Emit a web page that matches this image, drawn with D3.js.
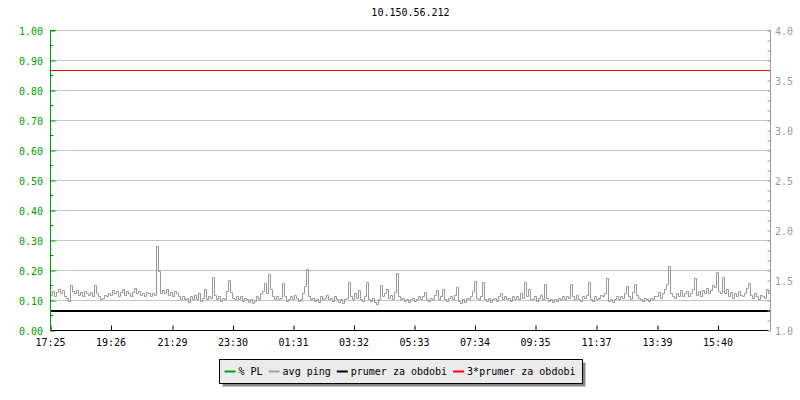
<!DOCTYPE html>
<html>
<head>
<meta charset="utf-8">
<script src="https://cdn.jsdelivr.net/npm/d3@7"></script>
<style>
    body { margin: 0; background: #fff; }
    text { font-family: "DejaVu Sans Mono", monospace; font-size: 10px; }
</style>
</head>
<body>
<svg id="chart" width="800" height="400"></svg>
<script>
    var title = "10.150.56.212";

    // x axis tick labels (minutes after 17:25 start)
    var timeLabels = ["17:25", "19:26", "21:29", "23:30", "01:31", "03:32",
        "05:33", "07:34", "09:35", "11:37", "13:39", "15:40"];
    var timeOffsets = [0, 121, 244, 365, 486, 607, 728, 849, 970, 1092, 1214, 1335];
    var spanMinutes = 1440;
    var stepMinutes = 4;

    var plTicks = [0, 0.1, 0.2, 0.3, 0.4, 0.5, 0.6, 0.7, 0.8, 0.9, 1.0];
    var pingTicks = [1.0, 1.5, 2.0, 2.5, 3.0, 3.5, 4.0];

    // avg ping, one sample every 4 minutes
    var avgPing = [
        1.36, 1.40, 1.34, 1.39, 1.42, 1.37, 1.41, 1.35, 1.33, 1.30,
        1.46, 1.40, 1.37, 1.41, 1.36, 1.39, 1.35, 1.40, 1.38, 1.36,
        1.39, 1.34, 1.46, 1.38, 1.35, 1.31, 1.33, 1.36, 1.34, 1.38,
        1.36, 1.41, 1.37, 1.40, 1.35, 1.39, 1.42, 1.36, 1.40, 1.38,
        1.35, 1.39, 1.43, 1.37, 1.40, 1.36, 1.38, 1.34, 1.39, 1.37,
        1.35, 1.38, 1.36, 1.84, 1.60, 1.37, 1.41, 1.38, 1.42, 1.36,
        1.39, 1.35, 1.40, 1.37, 1.34, 1.32, 1.35, 1.31, 1.33, 1.29,
        1.34, 1.31, 1.36, 1.32, 1.38, 1.30, 1.33, 1.42, 1.31, 1.35,
        1.33, 1.54, 1.36, 1.32, 1.34, 1.30, 1.33, 1.31, 1.40, 1.51,
        1.39, 1.33, 1.31, 1.35, 1.32, 1.34, 1.30, 1.33, 1.31, 1.29,
        1.32, 1.28, 1.30, 1.34, 1.32, 1.37, 1.40, 1.48, 1.38, 1.57,
        1.42, 1.34, 1.32, 1.35, 1.31, 1.33, 1.48, 1.35, 1.30, 1.32,
        1.34, 1.31, 1.36, 1.33, 1.30, 1.32, 1.38, 1.45, 1.62, 1.35,
        1.31, 1.33, 1.30, 1.32, 1.29, 1.34, 1.31, 1.33, 1.36, 1.31,
        1.33, 1.30, 1.34, 1.31, 1.29, 1.32, 1.28, 1.31, 1.33, 1.49,
        1.34, 1.31, 1.37, 1.33, 1.41, 1.31, 1.30, 1.34, 1.49, 1.32,
        1.30, 1.33, 1.29, 1.27, 1.32, 1.46, 1.35, 1.38, 1.42, 1.33,
        1.36, 1.31, 1.39, 1.58, 1.35, 1.31, 1.33, 1.30, 1.32, 1.29,
        1.31, 1.33, 1.30, 1.32, 1.35, 1.31, 1.34, 1.39, 1.32, 1.30,
        1.33, 1.31, 1.36, 1.41, 1.31, 1.34, 1.42, 1.32, 1.30, 1.33,
        1.35, 1.32, 1.36, 1.44, 1.30, 1.28, 1.31, 1.29, 1.33, 1.31,
        1.34, 1.40, 1.50, 1.33, 1.31, 1.34, 1.49, 1.32, 1.30, 1.33,
        1.29, 1.31, 1.33, 1.30, 1.34, 1.37, 1.32, 1.35, 1.31, 1.33,
        1.30, 1.34, 1.32, 1.35, 1.31, 1.37, 1.33, 1.49, 1.34, 1.42,
        1.32, 1.31, 1.34, 1.30, 1.33, 1.36, 1.32, 1.47, 1.33, 1.30,
        1.32, 1.29, 1.31, 1.30, 1.33, 1.31, 1.34, 1.32, 1.35, 1.33,
        1.47, 1.34, 1.31, 1.36, 1.32, 1.30, 1.34, 1.33, 1.36, 1.49,
        1.32, 1.30, 1.34, 1.31, 1.33, 1.36, 1.34, 1.38, 1.53, 1.30,
        1.32, 1.29, 1.31, 1.34, 1.32, 1.35, 1.33, 1.38, 1.45, 1.34,
        1.31, 1.39, 1.47, 1.36, 1.33, 1.31, 1.30, 1.33, 1.32, 1.30,
        1.33, 1.31, 1.35, 1.34, 1.39, 1.33, 1.37, 1.42, 1.47, 1.65,
        1.38, 1.35, 1.33, 1.38, 1.35, 1.41, 1.34, 1.37, 1.40, 1.35,
        1.37, 1.42, 1.53, 1.36, 1.40, 1.35, 1.41, 1.37, 1.43, 1.38,
        1.41, 1.46, 1.44, 1.59, 1.40, 1.38, 1.54, 1.37, 1.42, 1.35,
        1.39, 1.33, 1.37, 1.35, 1.40, 1.36, 1.34, 1.38, 1.43, 1.48,
        1.36, 1.33, 1.38, 1.34, 1.31, 1.36, 1.35, 1.33, 1.42, 1.37
    ];
    var pingMean = 1.2;
    var pingMean3 = 3.6;

    var legendItems = [
        {label: "% PL", color: "#00a000"},
        {label: "avg ping", color: "#a0a0a0"},
        {label: "prumer za obdobi", color: "#000000"},
        {label: "3*prumer za obdobi", color: "#ff0000"}
    ];

    var svg = d3.select("#chart");
    var plotLeft = 50.5, plotRight = 770.5, plotTop = 30.5, plotBottom = 330.5;

    var x = d3.scaleLinear().domain([0, spanMinutes]).range([plotLeft, plotRight]);
    var yPL = d3.scaleLinear().domain([0, 1]).range([plotBottom, plotTop]);
    var yPing = d3.scaleLinear().domain([1, 4]).range([plotBottom, plotTop]);

    svg.append("text")
        .attr("x", (plotLeft + plotRight) / 2)
        .attr("y", 13)
        .attr("text-anchor", "middle")
        .attr("dominant-baseline", "middle")
        .text(title);

    // grid
    svg.append("g").selectAll("line")
        .data(plTicks.slice(1))
        .enter().append("line")
        .attr("x1", plotLeft).attr("x2", plotRight)
        .attr("y1", function (d) { return yPL(d); })
        .attr("y2", function (d) { return yPL(d); })
        .attr("stroke", "#c4c4c4");

    // avg ping line
    var line = d3.line()
        .x(function (d, i) { return x(i * stepMinutes); })
        .y(function (d) { return Math.round(yPing(d)) + 0.5; })
        .curve(d3.curveStepAfter);

    svg.append("path")
        .datum(avgPing.concat([avgPing[avgPing.length - 1]]))
        .attr("d", line)
        .attr("fill", "none")
        .attr("stroke", "#999999")
        .attr("stroke-width", 1);

    svg.append("line")
        .attr("x1", plotLeft).attr("x2", plotRight)
        .attr("y1", Math.round(yPing(pingMean)))
        .attr("y2", Math.round(yPing(pingMean)))
        .attr("stroke", "#000").attr("stroke-width", 2);

    svg.append("line")
        .attr("x1", plotLeft).attr("x2", plotRight)
        .attr("y1", Math.round(yPing(pingMean3)) + 0.5)
        .attr("y2", Math.round(yPing(pingMean3)) + 0.5)
        .attr("stroke", "#ff0000").attr("stroke-width", 1);

    // left axis
    var leftAxis = d3.axisRight(yPL)
        .tickValues(plTicks)
        .tickSize(5)
        .tickFormat("");
    var gl = svg.append("g")
        .attr("transform", "translate(" + plotLeft + ",0)")
        .call(leftAxis);
    gl.selectAll("path, line").attr("stroke", "#00a000");
    gl.select(".domain").attr("d", "M5," + plotTop + "H0V" + plotBottom);
    gl.selectAll(".minor").data(d3.range(0.05, 1, 0.1))
        .enter().append("line")
        .attr("x1", 0).attr("x2", 3)
        .attr("y1", function (d) { return Math.round(yPL(d) - 0.5) + 0.5; })
        .attr("y2", function (d) { return Math.round(yPL(d) - 0.5) + 0.5; })
        .attr("stroke", "#00a000");
    svg.append("g").selectAll("text")
        .data(plTicks)
        .enter().append("text")
        .attr("x", 43)
        .attr("y", function (d) { return yPL(d) + 1; })
        .attr("text-anchor", "end")
        .attr("dominant-baseline", "middle")
        .attr("fill", "#00a000")
        .text(function (d) { return d.toFixed(2); });

    // right axis
    var rightAxis = d3.axisLeft(yPing)
        .ticks(30)
        .tickSize(3)
        .tickFormat("");
    var gr = svg.append("g")
        .attr("transform", "translate(" + plotRight + ",0)")
        .call(rightAxis);
    gr.selectAll("path, line").attr("stroke", "#999999");
    gr.select(".domain").attr("d", "M-3," + plotTop + "H0V" + plotBottom + "H-3");
    svg.append("g").selectAll("text")
        .data(pingTicks)
        .enter().append("text")
        .attr("x", 775)
        .attr("y", function (d) { return yPing(d) + 1; })
        .attr("dominant-baseline", "middle")
        .attr("fill", "#999999")
        .text(function (d) { return d.toFixed(1); });

    // bottom axis
    var bottomAxis = d3.axisTop(x)
        .tickValues(timeOffsets)
        .tickSize(5)
        .tickFormat("");
    var gb = svg.append("g")
        .attr("transform", "translate(0," + plotBottom + ")")
        .call(bottomAxis);
    gb.selectAll("path, line").attr("stroke", "#000");
    gb.select(".domain").attr("d", "M" + plotLeft + ",0H" + (plotRight - 3));
    svg.append("g").selectAll("text")
        .data(timeOffsets)
        .enter().append("text")
        .attr("x", function (d) { return x(d); })
        .attr("y", 343)
        .attr("text-anchor", "middle")
        .attr("dominant-baseline", "middle")
        .text(function (d, i) { return timeLabels[i]; });
    svg.append("line")
        .attr("x1", plotLeft).attr("x2", plotLeft)
        .attr("y1", plotTop).attr("y2", plotBottom)
        .attr("stroke", "#00a000");

    // legend
    var lg = svg.append("g");
    var shadow = lg.append("rect").attr("fill", "#888888");
    var box = lg.append("rect").attr("fill", "#ebebeb").attr("stroke", "#000");
    var cx = 0;
    var items = lg.append("g");
    legendItems.forEach(function (item) {
        items.append("line")
            .attr("x1", cx).attr("x2", cx + 11)
            .attr("y1", 0).attr("y2", 0)
            .attr("stroke", item.color).attr("stroke-width", 2);
        var t = items.append("text")
            .attr("x", cx + 14)
            .attr("y", 0)
            .attr("dominant-baseline", "middle")
            .text(item.label);
        cx += 14 + t.node().getComputedTextLength() + 6;
    });
    var w = cx - 6 + 12;
    var bx = Math.round(400 - w / 2) + 0.5, by = 359.5;
    items.attr("transform", "translate(" + (bx + 5) + "," + (by + 12) + ")");
    box.attr("x", bx).attr("y", by).attr("width", w).attr("height", 24);
    shadow.attr("x", bx + 3).attr("y", by + 3).attr("width", w).attr("height", 24);
</script>
</body>
</html>
